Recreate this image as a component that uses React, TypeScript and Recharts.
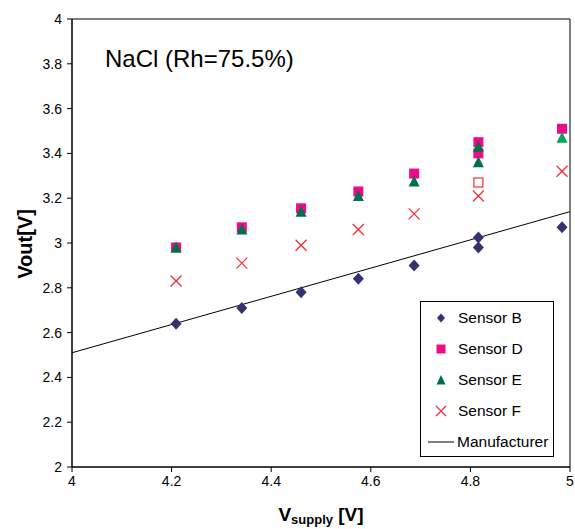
import React from 'react';
import {
  ScatterChart,
  Scatter,
  XAxis,
  YAxis,
  ReferenceArea,
  Cell,
} from 'recharts';

// supply voltage for each reading (two readings were taken at 4.816 V)
const vSupply = [4.209, 4.341, 4.46, 4.575, 4.687, 4.816, 4.816, 4.984];
const vSupplyF = [4.209, 4.341, 4.46, 4.575, 4.687, 4.816, 4.984];

const sensorB = [2.64, 2.71, 2.78, 2.84, 2.9, 3.025, 2.98, 3.07];
const sensorD = [2.98, 3.07, 3.155, 3.23, 3.31, 3.45, 3.4, 3.51];
const sensorE = [2.98, 3.06, 3.14, 3.21, 3.275, 3.43, 3.36, 3.47];
const sensorF = [2.83, 2.91, 2.99, 3.06, 3.13, 3.21, 3.32];

// single open-square reading
const outlierX = [4.816];
const outlierY = [3.27];

// manufacturer's nominal transfer line
const manufacturerX = [4, 5];
const manufacturerY = [2.51, 3.14];

const xTicks = [4, 4.2, 4.4, 4.6, 4.8, 5];
const yTicks = [2, 2.2, 2.4, 2.6, 2.8, 3, 3.2, 3.4, 3.6, 3.8, 4];

const FONT = '"Liberation Sans", Arial, sans-serif';
const C_B = '#333370';
const C_D = '#EE0A8C';
const C_E = '#00704A';
const C_E_LIGHT = '#00A651';
const C_F = '#F0303A';

const pairs = (xs: number[], ys: number[]) => xs.map((x, i) => ({ x, y: ys[i] }));

const Diamond = ({ cx, cy, fill }: any) => (
  <polygon points={`${cx},${cy - 6} ${cx + 5.5},${cy} ${cx},${cy + 6} ${cx - 5.5},${cy}`} fill={fill} />
);
const Square = ({ cx, cy, fill }: any) => (
  <rect x={cx - 5} y={cy - 5} width={10} height={10} fill={fill} />
);
const OpenSquare = ({ cx, cy }: any) => (
  <rect x={cx - 4.5} y={cy - 4.5} width={9} height={9} fill="none" stroke={C_F} strokeWidth={1.2} />
);
const Triangle = ({ cx, cy, fill }: any) => (
  <polygon points={`${cx},${cy - 6} ${cx + 5.5},${cy + 5} ${cx - 5.5},${cy + 5}`} fill={fill} />
);
const Cross = ({ cx, cy }: any) => (
  <g stroke={C_F} strokeWidth={1.3}>
    <line x1={cx - 5.5} y1={cy - 5.5} x2={cx + 5.5} y2={cy + 5.5} />
    <line x1={cx - 5.5} y1={cy + 5.5} x2={cx + 5.5} y2={cy - 5.5} />
  </g>
);

const legendItems = [
  { name: 'Sensor B', symbol: <polygon points="9,4.5 13,9 9,13.5 5,9" fill={C_B} /> },
  { name: 'Sensor D', symbol: <rect x={4.5} y={4.5} width={9} height={9} fill={C_D} /> },
  { name: 'Sensor E', symbol: <polygon points="9,4 13.5,13.5 4.5,13.5" fill={C_E} /> },
  {
    name: 'Sensor F',
    symbol: (
      <g stroke={C_F} strokeWidth={1.2}>
        <line x1={4} y1={4} x2={14} y2={14} />
        <line x1={4} y1={14} x2={14} y2={4} />
      </g>
    ),
  },
];

const XTitle = ({ viewBox }: any) => {
  const cx = viewBox.x + viewBox.width / 2;
  return (
    <text x={cx} y={521} textAnchor="middle" fontFamily={FONT} fontWeight="bold" fontSize={19} fill="#000">
      <tspan>V</tspan>
      <tspan fontSize={13} dy={3}>supply</tspan>
      <tspan dy={-3}> [V]</tspan>
    </text>
  );
};

const YTitle = () => (
  <text
    x={25}
    y={244}
    transform="rotate(-90 25 244)"
    textAnchor="middle"
    dominantBaseline="central"
    fontFamily={FONT}
    fontWeight="bold"
    fontSize={20}
    fill="#000"
  >
    Vout[V]
  </text>
);

export default function App() {
  return (
    <div style={{ position: 'absolute', left: 0, top: 0, width: 575, height: 529, background: '#fff' }}>
      <ScatterChart width={575} height={529} margin={{ top: 19, right: 5, bottom: 0, left: 0 }}>
        <XAxis
          type="number"
          dataKey="x"
          domain={[4, 5]}
          ticks={xTicks}
          height={62}
          tickSize={5}
          tickMargin={4}
          stroke="#000"
          tick={{ fill: '#000', fontSize: 14, fontFamily: FONT }}
          tickFormatter={(v: number) => String(v)}
          label={<XTitle />}
        />
        <YAxis
          type="number"
          dataKey="y"
          domain={[2, 4]}
          ticks={yTicks}
          width={72}
          tickSize={5}
          tickMargin={5}
          stroke="#000"
          tick={{ fill: '#000', fontSize: 14, fontFamily: FONT }}
          tickFormatter={(v: number) => String(v)}
          label={<YTitle />}
        />
        <ReferenceArea x1={4} x2={5} y1={2} y2={4} stroke="#000" strokeWidth={1} fill="none" fillOpacity={0} />
        <Scatter
          name="Manufacturer"
          data={pairs(manufacturerX, manufacturerY)}
          line={{ stroke: '#000', strokeWidth: 1 }}
          shape={() => <g />}
          isAnimationActive={false}
        />
        <Scatter name="Sensor B" data={pairs(vSupply, sensorB)} fill={C_B} shape={<Diamond />} isAnimationActive={false} />
        <Scatter name="Sensor D" data={pairs(vSupply, sensorD)} fill={C_D} shape={<Square />} isAnimationActive={false} />
        <Scatter name="outlier" data={pairs(outlierX, outlierY)} shape={<OpenSquare />} isAnimationActive={false} />
        <Scatter name="Sensor E" data={pairs(vSupply, sensorE)} fill={C_E} shape={<Triangle />} isAnimationActive={false}>
          {vSupply.map((_, i) => (
            <Cell key={i} fill={i === vSupply.length - 1 ? C_E_LIGHT : C_E} />
          ))}
        </Scatter>
        <Scatter name="Sensor F" data={pairs(vSupplyF, sensorF)} shape={<Cross />} isAnimationActive={false} />
      </ScatterChart>

      <div
        style={{
          position: 'absolute',
          left: 105,
          top: 45,
          fontFamily: FONT,
          fontSize: 24,
          color: '#000',
          whiteSpace: 'nowrap',
        }}
      >
        NaCl (Rh=75.5%)
      </div>

      <div
        style={{
          position: 'absolute',
          left: 420,
          top: 301,
          width: 134,
          height: 156,
          border: '1px solid #000',
          background: '#fff',
          fontFamily: FONT,
          fontSize: 15.5,
          color: '#000',
          boxSizing: 'border-box',
        }}
      >
        {legendItems.map((item, i) => (
          <div key={item.name} style={{ position: 'absolute', left: 11, top: 6 + i * 31, height: 20, display: 'flex', alignItems: 'center' }}>
            <svg width={18} height={18} style={{ marginRight: 8 }}>
              {item.symbol}
            </svg>
            <span>{item.name}</span>
          </div>
        ))}
        <div style={{ position: 'absolute', left: 6, top: 130, height: 20, display: 'flex', alignItems: 'center' }}>
          <svg width={28} height={18} style={{ marginRight: 2 }}>
            <line x1={1} y1={9} x2={27} y2={9} stroke="#000" strokeWidth={1} />
          </svg>
          <span>Manufacturer</span>
        </div>
      </div>
    </div>
  );
}
